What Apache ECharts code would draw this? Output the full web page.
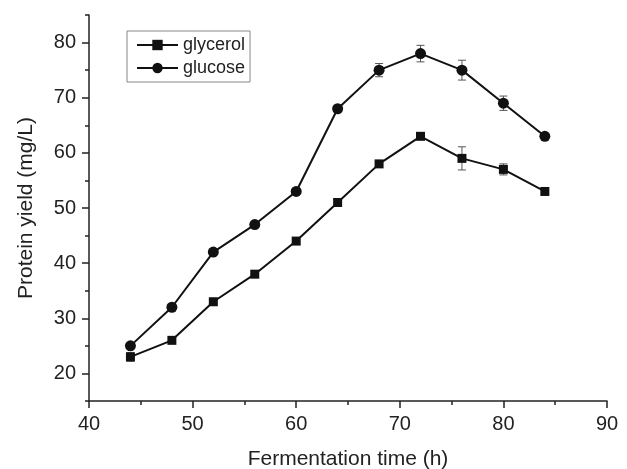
<!DOCTYPE html>
<html>
<head>
<meta charset="utf-8">
<script src="https://cdn.jsdelivr.net/npm/echarts@6/dist/echarts.min.js"></script>
<style>
html,body{margin:0;padding:0;background:#fff;}
#chart{width:627px;height:469px;}
</style>
</head>
<body>
<div id="chart"></div>
<script>
const times = [44, 48, 52, 56, 60, 64, 68, 72, 76, 80, 84];
const glycerol = [23, 26, 33, 38, 44, 51, 58, 63, 59, 57, 53];
const glucose = [25, 32, 42, 47, 53, 68, 75, 78, 75, 69, 63];
const glycerolErr = [0.8, 0, 0, 0, 0, 0.6, 0, 0, 2.1, 1.0, 0];
const glucoseErr = [0, 0, 0, 0, 0, 0.4, 1.2, 1.5, 1.8, 1.3, 0];
const xTicks = [40, 50, 60, 70, 80, 90];
const xMinorTicks = [45, 55, 65, 75, 85];
const yTicks = [20, 30, 40, 50, 60, 70, 80];
const yMinorTicks = [15, 25, 35, 45, 55, 65, 75, 85];

const FONT = '"Liberation Sans", Arial, sans-serif';
const TXT = '#222';
const AX = '#222';

function pairs(xs, ys) { return xs.map((x, i) => [x, ys[i]]); }
function errData(xs, ys, es) {
  return xs.map((x, i) => [x, ys[i], es[i]]).filter(d => d[2] > 0);
}
function errRender(params, api) {
  const x = api.value(0), y = api.value(1), e = api.value(2);
  const top = api.coord([x, y + e]);
  const bot = api.coord([x, y - e]);
  const w = 4;
  const style = { stroke: '#555', lineWidth: 1 };
  return {
    type: 'group',
    children: [
      { type: 'line', shape: { x1: top[0], y1: top[1], x2: bot[0], y2: bot[1] }, style },
      { type: 'line', shape: { x1: top[0] - w, y1: top[1], x2: top[0] + w, y2: top[1] }, style },
      { type: 'line', shape: { x1: bot[0] - w, y1: bot[1], x2: bot[0] + w, y2: bot[1] }, style }
    ]
  };
}

const chart = echarts.init(document.getElementById('chart'), null, { renderer: 'canvas' });
const baseAxisLine = { show: true, lineStyle: { color: AX, width: 1.5 } };
chart.setOption({
  animation: false,
  backgroundColor: '#fff',
  grid: { left: 89, right: 20, top: 15, bottom: 68, containLabel: false, outerBoundsMode: 'none' },
  legend: {
    data: ['glycerol', 'glucose'],
    orient: 'vertical',
    left: 127, top: 31,
    padding: [5, 5, 5, 9],
    itemWidth: 41, itemHeight: 13, itemGap: 5,
    borderColor: '#888', borderWidth: 1,
    textStyle: { fontFamily: FONT, fontSize: 18, color: TXT }
  },
  xAxis: [{
    type: 'value', min: 40, max: 90,
    name: 'Fermentation time (h)', nameLocation: 'middle', nameGap: 48,
    nameTextStyle: { fontFamily: FONT, fontSize: 21, color: TXT },
    axisLine: baseAxisLine,
    axisTick: { show: true, inside: false, length: 7, customValues: xTicks, lineStyle: { color: AX, width: 1.5 } },
    axisLabel: { customValues: xTicks, margin: 13, fontFamily: FONT, fontSize: 20, color: TXT },
    splitLine: { show: false }
  }, {
    type: 'value', min: 40, max: 90, position: 'bottom',
    axisLine: { show: false },
    axisTick: { show: true, length: 4, customValues: xMinorTicks, lineStyle: { color: AX, width: 1.5 } },
    axisLabel: { show: false },
    splitLine: { show: false }
  }],
  yAxis: [{
    type: 'value', min: 15, max: 85,
    name: 'Protein yield (mg/L)', nameLocation: 'middle', nameGap: 52,
    nameTextStyle: { fontFamily: FONT, fontSize: 21, color: TXT },
    axisLine: baseAxisLine,
    axisTick: { show: true, inside: false, length: 7, customValues: yTicks, lineStyle: { color: AX, width: 1.5 } },
    axisLabel: { customValues: yTicks, margin: 13, fontFamily: FONT, fontSize: 20, color: TXT },
    splitLine: { show: false }
  }, {
    type: 'value', min: 15, max: 85, position: 'left',
    axisLine: { show: false },
    axisTick: { show: true, length: 4, customValues: yMinorTicks, lineStyle: { color: AX, width: 1.5 } },
    axisLabel: { show: false },
    splitLine: { show: false }
  }],
  series: [{
    name: 'glycerol', type: 'line', data: pairs(times, glycerol),
    symbol: 'rect', symbolSize: 9, showSymbol: true,
    lineStyle: { color: '#111', width: 2 }, itemStyle: { color: '#111' }, z: 3
  }, {
    name: 'glucose', type: 'line', data: pairs(times, glucose),
    symbol: 'circle', symbolSize: 11, showSymbol: true,
    lineStyle: { color: '#111', width: 2 }, itemStyle: { color: '#111' }, z: 3
  }, {
    name: 'glycerolErr', type: 'custom', renderItem: errRender,
    data: errData(times, glycerol, glycerolErr), z: 2, silent: true
  }, {
    name: 'glucoseErr', type: 'custom', renderItem: errRender,
    data: errData(times, glucose, glucoseErr), z: 2, silent: true
  }]
});
</script>
</body>
</html>
